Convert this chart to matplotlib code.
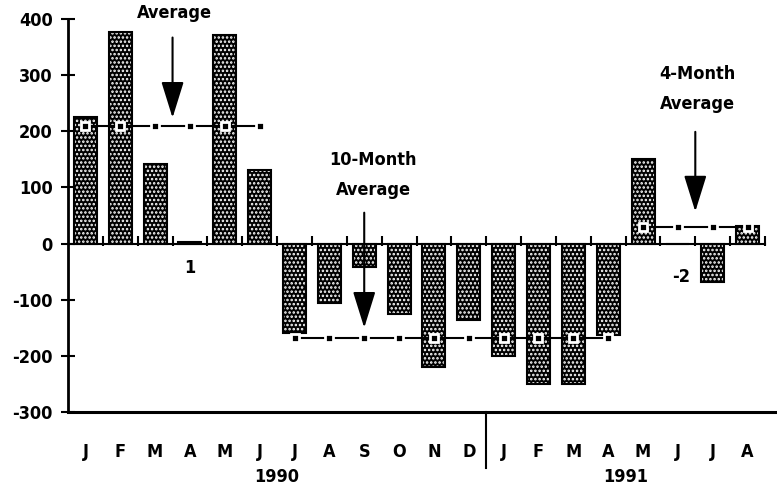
import matplotlib
matplotlib.use("Agg")
import matplotlib.pyplot as plt
import matplotlib.transforms as mtransforms
from matplotlib import font_manager
import numpy as np

months = ['J', 'F', 'M', 'A', 'M', 'J', 'J', 'A', 'S', 'O', 'N', 'D',
          'J', 'F', 'M', 'A', 'M', 'J', 'J', 'A']
values = [225, 377, 142, 2, 371, 131, -160, -105, -41, -126, -219, -137,
          -201, -251, -251, -162, 151, 0, -69, 32]
years = ['1990', '1991']
yticks = [400, 300, 200, 100, 0, -100, -200, -300]

# moving-average segments: (first month index, last month index, level)
avg_start = [0, 6, 16]
avg_end = [5, 15, 19]
avg_level = [210, -169, 30]

# pick a narrow bold sans if one is installed
FONT_KW = dict(fontfamily=['Liberation Sans', 'DejaVu Sans'], fontweight='bold')
names = {f.name for f in font_manager.fontManager.ttflist}
if 'Liberation Sans Narrow' in names:
    FONT_KW = dict(fontfamily=['Liberation Sans Narrow', 'DejaVu Sans'], fontweight='bold')
else:
    try:
        p = font_manager.findfont(font_manager.FontProperties(
            family='DejaVu Sans', weight='bold', stretch='condensed'), fallback_to_default=False)
        if 'Condensed' in p:
            FONT_KW = dict(fontfamily=['DejaVu Sans'], fontweight='bold', fontstretch='condensed')
    except Exception:
        pass

FS = 13
plt.rcParams['hatch.linewidth'] = 1.2

fig = plt.figure(figsize=(7.77, 4.86), dpi=100)
ax = fig.add_axes([68 / 777, 1 - 412 / 486, 1 - 68 / 777, (412 - 19) / 486])

x = np.arange(len(values))
ax.bar(x, values, width=0.66, facecolor='black', edgecolor='white',
       hatch='....', linewidth=0, zorder=2)
ax.bar(x, values, width=0.66, fill=False, edgecolor='black', linewidth=1.5, zorder=3)

# zero line with crossing ticks
ax.plot([-0.5, len(values) - 0.5], [0, 0], color='black', lw=1.5, zorder=4)
ax.vlines(np.arange(len(values) + 1) - 0.5, -5, 14, color='black', lw=1.5, zorder=4)

# average lines
for s, e, lev in zip(avg_start, avg_end, avg_level):
    xs = np.arange(s, e + 1)
    ax.plot(xs, [lev] * len(xs), color='black', lw=1.5, marker='s', ms=6,
            mfc='black', mec='white', mew=2, zorder=5)

ax.set_xlim(-0.5, -0.5 + (777 - 68) / 34.85)
ax.set_ylim(-300, 400)

for sp in ['top', 'right']:
    ax.spines[sp].set_visible(False)
ax.spines['left'].set_linewidth(2)
ax.spines['bottom'].set_linewidth(2.2)

ax.set_yticks(yticks)
ax.set_yticklabels([str(v) for v in yticks], fontsize=FS, **FONT_KW)
ax.tick_params(axis='y', direction='inout', length=10, width=1.5, pad=6)
ax.set_xticks(x)
ax.set_xticklabels(months, fontsize=FS, **FONT_KW)
ax.tick_params(axis='x', length=0, pad=22)

# year labels
trans = mtransforms.blended_transform_factory(ax.transData, fig.transFigure)
ax.text(5.5, 1 - 477 / 486, years[0], transform=trans, ha='center', va='center',
        fontsize=FS, **FONT_KW)
ax.text(15.5, 1 - 477 / 486, years[1], transform=trans, ha='center', va='center',
        fontsize=FS, **FONT_KW)
ax.plot([11.5, 11.5], [1 - 412 / 486, 1 - 468 / 486], transform=trans,
        color='black', lw=1.5, clip_on=False)

# annotations
aprops = dict(arrowstyle='-|>,head_length=0.9,head_width=0.28', mutation_scale=25,
              lw=1.5, color='black', shrinkA=0, shrinkB=0)
ax.annotate('', xy=(2.5, 224), xytext=(2.5, 367), arrowprops=aprops, zorder=6)
ax.text(2.55, 411, 'Average', ha='center', va='center', fontsize=FS,
        clip_on=False, **FONT_KW)

ax.annotate('', xy=(8.0, -150), xytext=(8.0, 55), arrowprops=aprops, zorder=6)
ax.text(8.25, 122, '10-Month\nAverage', ha='center', va='center', fontsize=FS,
        linespacing=1.9, **FONT_KW)

ax.annotate('', xy=(17.5, 57), xytext=(17.5, 199), arrowprops=aprops, zorder=6)
ax.text(17.55, 275, '4-Month\nAverage', ha='center', va='center', fontsize=FS,
        linespacing=1.9, **FONT_KW)

ax.text(3.0, -43, '1', ha='center', va='center', fontsize=FS, **FONT_KW)
ax.text(17.1, -59, '-2', ha='center', va='center', fontsize=FS, **FONT_KW)

fig.savefig('out.png', dpi=100)
